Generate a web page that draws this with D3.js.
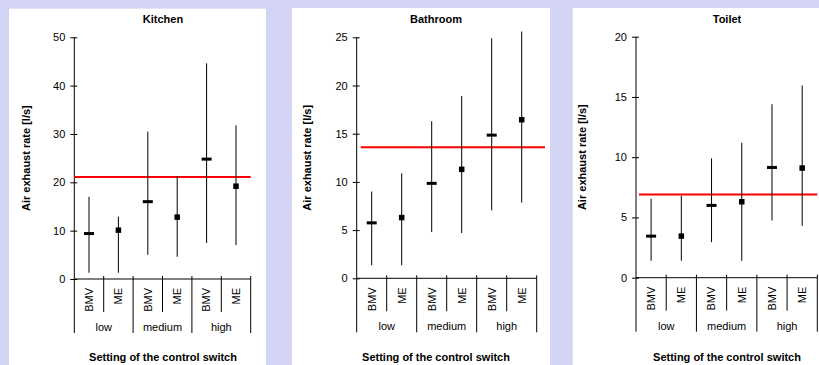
<!DOCTYPE html>
<html>
<head>
<meta charset="utf-8">
<script src="https://cdn.jsdelivr.net/npm/d3@7"></script>
<style>
  body { margin: 0; background: #d3d3f3; }
  svg { display: block; font-family: "Liberation Sans", Arial, sans-serif; }
</style>
</head>
<body>
<svg width="819" height="365"></svg>
<script>
// Categories on the x axis
const methods = ["BMV", "ME", "BMV", "ME", "BMV", "ME"];
const settings = ["low", "medium", "high"];

// Kitchen: mean, min, max per category
const kitchenMean = [9.4, 10.1, 16.0, 12.8, 24.8, 19.2];
const kitchenMin = [1.3, 1.3, 5.0, 4.6, 7.45, 7.0];
const kitchenMax = [17.0, 12.9, 30.5, 21.3, 44.6, 31.8];
const kitchenRequired = 21.1;

// Bathroom
const bathroomMean = [5.75, 6.3, 9.85, 11.3, 14.85, 16.45];
const bathroomMin = [1.35, 1.35, 4.8, 4.7, 7.05, 7.85];
const bathroomMax = [9.0, 10.9, 16.3, 18.9, 24.9, 25.6];
const bathroomRequired = 13.6;

// Toilet
const toiletMean = [3.45, 3.45, 6.0, 6.3, 9.15, 9.1];
const toiletMin = [1.4, 1.4, 2.95, 1.4, 4.75, 4.3];
const toiletMax = [6.55, 6.8, 9.9, 11.2, 14.4, 15.95];
const toiletRequired = 6.9;

// Panel layout (positions only)
const panels = [
  { title: "Kitchen", mean: kitchenMean, min: kitchenMin, max: kitchenMax, req: kitchenRequired,
    ymax: 50, step: 10, box: [9, 8.7, 257, 357], x0: 74.3, x1: 250.7, y0: 279, yTop: 37.3,
    redX: [74.3, 250.7], cx: 163, ytX: 29.5 },
  { title: "Bathroom", mean: bathroomMean, min: bathroomMin, max: bathroomMax, req: bathroomRequired,
    ymax: 25, step: 5, box: [292, 8, 258, 357], x0: 356.7, x1: 536.7, y0: 278.3, yTop: 37.3,
    redX: [360.7, 545], cx: 436, ytX: 311 },
  { title: "Toilet", mean: toiletMean, min: toiletMin, max: toiletMax, req: toiletRequired,
    ymax: 20, step: 5, box: [572.7, 8, 247, 357], x0: 636, x1: 817.3, y0: 277.7, yTop: 36.7,
    redX: [639, 817.3], cx: 727, ytX: 586 }
];

const svg = d3.select("svg");

panels.forEach(p => {
  svg.append("rect")
    .attr("x", p.box[0]).attr("y", p.box[1])
    .attr("width", p.box[2]).attr("height", p.box[3])
    .attr("fill", "#fff");

  const g = svg.append("g");

  const idx = d3.range(methods.length);
  const x = d3.scaleBand().domain(idx).range([p.x0, p.x1]);
  const y = d3.scaleLinear().domain([0, p.ymax]).range([p.y0, p.yTop]);

  // y axis
  const yAxis = g.append("g")
    .attr("transform", `translate(${p.x0},0)`)
    .call(d3.axisLeft(y).tickValues(d3.range(0, p.ymax + 0.01, p.step))
      .tickSize(3).tickSizeOuter(0).tickPadding(6));
  yAxis.select(".domain").remove();
  yAxis.selectAll(".tick line").attr("x1", 3).attr("x2", -4).attr("stroke", "#000");
  yAxis.selectAll(".tick text").attr("font-size", 11).attr("fill", "#000")
    .attr("font-family", "Liberation Sans, Arial, sans-serif");

  // vertical axis line, running down to the bottom of the category block
  g.append("line")
    .attr("x1", p.x0).attr("x2", p.x0)
    .attr("y1", p.yTop).attr("y2", p.y0 + 54)
    .attr("stroke", "#000");

  // x axis line
  g.append("line")
    .attr("x1", p.x0).attr("x2", p.x1)
    .attr("y1", p.y0).attr("y2", p.y0)
    .attr("stroke", "#000");

  // separators between categories
  idx.forEach(i => {
    const xr = x(i) + x.bandwidth();
    const big = (i % 2 === 1);
    g.append("line")
      .attr("x1", xr).attr("x2", xr)
      .attr("y1", p.y0 - 3).attr("y2", p.y0 + (big ? 54 : 33))
      .attr("stroke", "#000");
  });

  // method labels
  g.selectAll("text.method")
    .data(methods)
    .join("text")
    .attr("class", "method")
    .attr("transform", (d, i) => `translate(${x(i) + x.bandwidth() / 2},${p.y0 + 9}) rotate(-90)`)
    .attr("text-anchor", "end")
    .attr("dy", "0.35em")
    .attr("font-size", 11)
    .text(d => d);

  // setting labels
  g.selectAll("text.setting")
    .data(settings)
    .join("text")
    .attr("class", "setting")
    .attr("x", (d, i) => x(i * 2) + x.bandwidth())
    .attr("y", p.y0 + 52)
    .attr("text-anchor", "middle")
    .attr("font-size", 11)
    .text(d => d);

  // required rate
  g.append("line")
    .attr("x1", p.redX[0]).attr("x2", p.redX[1])
    .attr("y1", y(p.req)).attr("y2", y(p.req))
    .attr("stroke", "#ff0000").attr("stroke-width", 2);

  // range lines
  g.selectAll("line.range")
    .data(idx)
    .join("line")
    .attr("class", "range")
    .attr("x1", i => x(i) + x.bandwidth() / 2)
    .attr("x2", i => x(i) + x.bandwidth() / 2)
    .attr("y1", i => y(p.min[i]))
    .attr("y2", i => y(p.max[i]))
    .attr("stroke", "#000");

  // mean markers: dash for BMV, square for ME
  idx.forEach(i => {
    const cx = x(i) + x.bandwidth() / 2;
    const cy = y(p.mean[i]);
    if (methods[i] === "BMV") {
      g.append("rect").attr("x", cx - 5).attr("y", cy - 1.5)
        .attr("width", 10).attr("height", 3).attr("fill", "#000");
    } else {
      g.append("rect").attr("x", cx - 2.75).attr("y", cy - 2.75)
        .attr("width", 5.5).attr("height", 5.5).attr("fill", "#000");
    }
  });

  // titles
  g.append("text")
    .attr("x", p.cx).attr("y", 23)
    .attr("text-anchor", "middle")
    .attr("font-size", 11).attr("font-weight", "bold")
    .text(p.title);

  g.append("text")
    .attr("x", p.cx).attr("y", 361)
    .attr("text-anchor", "middle")
    .attr("font-size", 11).attr("font-weight", "bold")
    .text("Setting of the control switch");

  g.append("text")
    .attr("transform", `translate(${p.ytX},${(p.y0 + p.yTop) / 2}) rotate(-90)`)
    .attr("text-anchor", "middle")
    .attr("font-size", 11).attr("font-weight", "bold")
    .text("Air exhaust rate [l/s]");
});
</script>
</body>
</html>
